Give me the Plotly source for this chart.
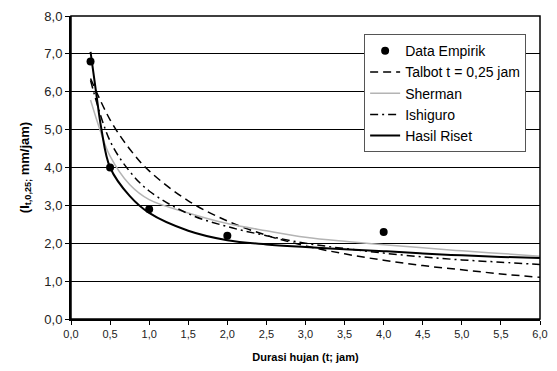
import plotly.graph_objects as go

# Data Empirik
emp_t = [0.25, 0.5, 1.0, 2.0, 4.0]
emp_i = [6.8, 4.0, 2.9, 2.2, 2.3]

# Talbot t = 0,25 jam
tal_t = [0.25, 0.5, 0.75, 1.0, 1.5, 2.0, 2.5, 3.0, 3.5, 4.0, 4.5, 5.0, 5.5, 6.0]
tal_i = [6.35, 5.26, 4.49, 3.91, 3.12, 2.59, 2.21, 1.93, 1.72, 1.55, 1.41, 1.30, 1.19, 1.10]

# Sherman
she_t = [0.25, 0.37, 0.5, 0.75, 1.0, 1.5, 2.0, 2.5, 3.0, 3.5, 4.0, 4.5, 5.0, 5.5, 6.0]
she_i = [5.78, 5.0, 4.3, 3.55, 3.15, 2.8, 2.52, 2.33, 2.16, 2.05, 1.96, 1.88, 1.8, 1.73, 1.66]

# Ishiguro
ish_t = [0.25, 0.5, 0.75, 1.0, 1.5, 2.0, 2.5, 3.0, 3.5, 4.0, 4.5, 5.0, 5.5, 6.0]
ish_i = [6.3, 4.7, 3.9, 3.38, 2.78, 2.44, 2.2, 2.0, 1.86, 1.74, 1.64, 1.56, 1.5, 1.44]

# Hasil Riset
has_t = [0.25, 0.32, 0.39, 0.5, 0.75, 1.0, 1.5, 2.0, 2.5, 3.0, 3.5, 4.0, 4.5, 5.0, 5.5, 6.0]
has_i = [7.05, 6.0, 5.0, 4.0, 3.25, 2.8, 2.33, 2.08, 1.97, 1.9, 1.84, 1.79, 1.73, 1.68, 1.64, 1.61]

x_ticks = [0.0, 0.5, 1.0, 1.5, 2.0, 2.5, 3.0, 3.5, 4.0, 4.5, 5.0, 5.5, 6.0]
y_ticks = [0.0, 1.0, 2.0, 3.0, 4.0, 5.0, 6.0, 7.0, 8.0]

fig = go.Figure()
fig.add_trace(go.Scatter(x=emp_t, y=emp_i, mode="markers", name="Data Empirik", legendgroup="a",
                         marker=dict(color="black", size=8)))
fig.add_trace(go.Scatter(x=tal_t, y=tal_i, mode="lines", name="Talbot t = 0,25 jam", legendgroup="b",
                         line=dict(color="black", width=1.5, dash="8px,5px", shape="spline")))
fig.add_trace(go.Scatter(x=she_t, y=she_i, mode="lines", name="Sherman", legendgroup="c",
                         line=dict(color="#b4b4b4", width=1.5, shape="spline")))
fig.add_trace(go.Scatter(x=ish_t, y=ish_i, mode="lines", name="Ishiguro", legendgroup="d",
                         line=dict(color="black", width=1.5, dash="8px,4px,2px,4px", shape="spline")))
fig.add_trace(go.Scatter(x=has_t, y=has_i, mode="lines", name="Hasil Riset", legendgroup="e",
                         line=dict(color="black", width=2, shape="spline")))

font = "Liberation Sans, Arial, sans-serif"
fig.update_layout(
    width=557, height=371,
    margin=dict(l=71, r=9, t=15, b=52),
    paper_bgcolor="white", plot_bgcolor="white",
    separators=",.",
    font=dict(family=font, size=12, color="black"),
    showlegend=True,
    legend=dict(x=0.625, y=0.94, xanchor="left", yanchor="top",
                bgcolor="white", bordercolor="#555555", borderwidth=1,
                font=dict(size=14, family=font), itemwidth=30,
                tracegroupgap=0),
    xaxis=dict(range=[0, 6], tickvals=x_ticks, tickformat=".1f",
               showgrid=False, zeroline=False,
               showline=True, linecolor="black", linewidth=2,
               ticks="outside", ticklen=4, tickcolor="black",
               tickfont=dict(size=11, color="#222"),
               title=dict(text="<b>Durasi hujan (t; jam)</b>", font=dict(size=11), standoff=14)),
    yaxis=dict(range=[0, 8], tickvals=y_ticks, tickformat=".1f",
               showgrid=True, gridcolor="black", gridwidth=1, zeroline=False,
               showline=True, linecolor="black", linewidth=2,
               ticks="outside", ticklen=4, tickcolor="black",
               tickfont=dict(size=13, color="#222"),
               title=dict(text="<b>(I<sub>t,0,25;</sub> mm/jam)</b>", font=dict(size=13), standoff=12)),
)
fig.add_shape(type="rect", xref="paper", yref="paper", x0=0, y0=0, x1=1, y1=1,
              line=dict(color="black", width=1.5), layer="above")

fig.write_html("out.html")
